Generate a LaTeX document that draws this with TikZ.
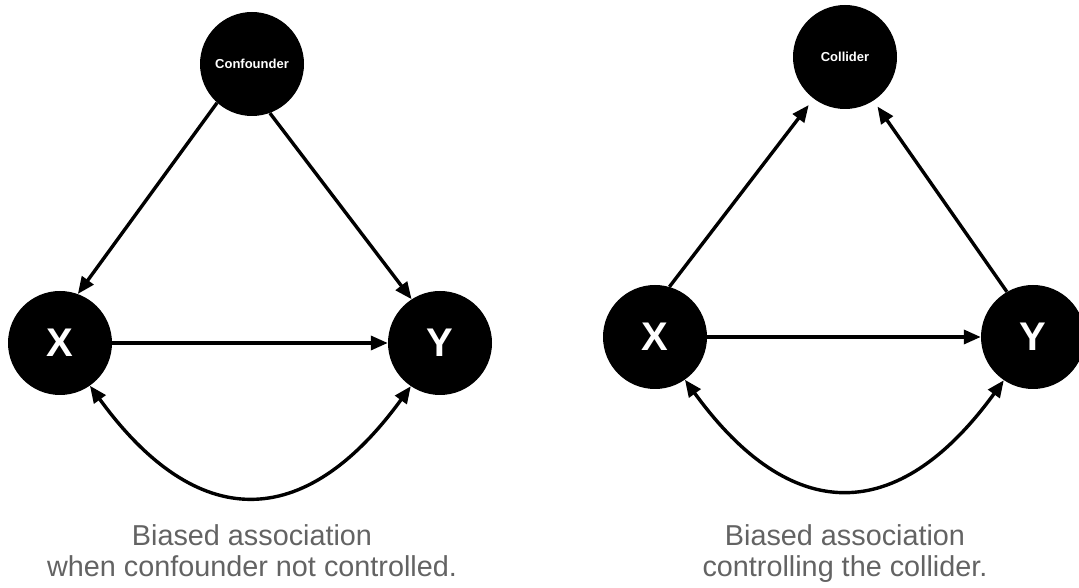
\documentclass[tikz,border=0pt]{standalone}
\usepackage{fontspec}
\setmainfont{Liberation Sans}
\usetikzlibrary{arrows.meta}
\definecolor{captiongray}{HTML}{636363}

\begin{document}
\begin{tikzpicture}[x=1pt,y=1pt,
  var/.style={circle, fill=black, minimum size=104pt, inner sep=0pt, text=white,
    font=\bfseries\fontsize{40}{40}\selectfont},
  smallvar/.style={var, font=\bfseries\fontsize{13}{13}\selectfont},
  tip/.tip={Triangle[length=17pt,width=14pt]},
  edge/.style={line width=3.4pt, -tip},
  biedge/.style={line width=3.4pt, tip-tip},
  caption/.style={text=captiongray, font=\fontsize{28.8}{31}\selectfont,
    anchor=base, inner sep=0pt}]
\useasboundingbox (0,0) rectangle (1079,588);
\clip (0,0) rectangle (1079,588);

% Confounder graph
\node[smallvar] (conf) at (252,524) {Confounder};
\node[var] (xl) at (60,245) {X};
\node[var] (yl) at (440,245) {Y};

\draw[edge] (conf.228) -- (xl.70);
\draw[edge] (conf.290) -- (yl.123);
\draw[edge] (xl.east) -- (yl.west);
\draw[biedge] (xl.-55) to[out=-54,in=-126,looseness=1.45] (yl.-124);

\node[caption] (capl1) at (252,42) {Biased association};
\node[caption] (capl2) at (252,11) {when confounder not controlled.};

% Collider graph
\node[smallvar] (coll) at (845,531) {Collider};
\node[var] (xr) at (655,251) {X};
\node[var] (yr) at (1033,251) {Y};

\draw[edge, shorten >=8pt] (xr.74) -- (coll.233);
\draw[edge, shorten >=7pt] (yr.120) -- (coll.303);
\draw[edge] (xr.east) -- (yr.west);
\draw[biedge] (xr.-55) to[out=-54,in=-126,looseness=1.45] (yr.-124);

\node[caption] (capr1) at (845,42) {Biased association};
\node[caption] (capr2) at (845,11) {controlling the collider.};
\end{tikzpicture}
\end{document}
